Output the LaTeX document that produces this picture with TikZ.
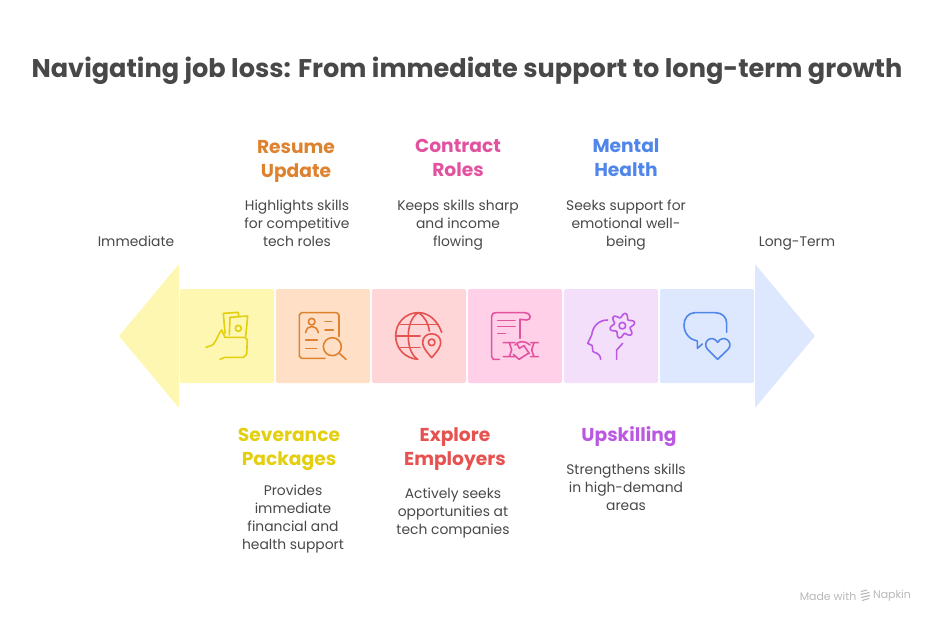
\documentclass[tikz,border=0pt]{standalone}
\usepackage{fontspec}
\setmainfont{Poppins}
\definecolor{cY}{HTML}{E3CF0E}\definecolor{cO}{HTML}{DE822F}\definecolor{cR}{HTML}{E6524F}
\definecolor{cP}{HTML}{E2539F}\definecolor{cV}{HTML}{BA58E2}\definecolor{cB}{HTML}{5086EA}
\definecolor{bY}{HTML}{FEF7B2}\definecolor{bO}{HTML}{FFE0C7}\definecolor{bR}{HTML}{FFD6D7}
\definecolor{bP}{HTML}{FFD0E8}\definecolor{bV}{HTML}{F4DFFB}\definecolor{bB}{HTML}{DDE8FE}
\definecolor{ink}{HTML}{484848}
\tikzset{
 seg/.style={fill=#1,draw=none,rounded corners=1.5pt,minimum size=70.5pt,inner sep=0pt,anchor=center},
 head/.style={text=#1,font=\fontsize{14}{18}\selectfont\bfseries,align=center,inner sep=0pt},
 desc/.style={text=ink,font=\fontsize{10.4}{13.5}\selectfont,align=center,inner sep=0pt},
 ttl/.style={text=ink,font=\fontsize{19.2}{24}\selectfont\bfseries,inner sep=0pt},
 ico/.style={draw=#1,line width=1.2pt,line cap=round,line join=round,fill=none},
}
\begin{document}
\begin{tikzpicture}[x=0.75pt,y=-0.75pt]
\useasboundingbox (0,0) rectangle (934,624);
\node[ttl] (title) at (467,70.5) {Navigating job loss: From immediate support to long-term growth};
\fill[bY,rounded corners=1pt] (179,264) -- (119,336) -- (179,408) -- cycle;
\fill[bB,rounded corners=1pt] (755,264) -- (815,336) -- (755,408) -- cycle;
\node[seg=bY] (s1) at (227,336) {};
\node[seg=bO] (s2) at (323,336) {};
\node[seg=bR] (s3) at (419,336) {};
\node[seg=bP] (s4) at (515,336) {};
\node[seg=bV] (s5) at (611,336) {};
\node[seg=bB] (s6) at (707,336) {};
\node[desc] (imm) at (136,241) {Immediate};
\node[desc] (lng) at (797,243.5) {Long-Term};
\node[head=cO] (h2) at (296,161) {Resume\\Update};
\node[desc] (d2) at (297,223) {Highlights skills\\for competitive\\tech roles};
\node[head=cP] (h4) at (458,158) {Contract\\Roles};
\node[desc] (d4) at (458,225) {Keeps skills sharp\\and income\\flowing};
\node[head=cB] (h6) at (626,158) {Mental\\Health};
\node[desc] (d6) at (626,225) {Seeks support for\\emotional well-\\being};
\node[head=cY] (h1) at (289,449) {Severance\\Packages};
\node[desc] (d1) at (293,519) {Provides\\immediate\\financial and\\health support};
\node[head=cR] (h3) at (455,449) {Explore\\Employers};
\node[desc] (d3) at (453,513) {Actively seeks\\opportunities at\\tech companies};
\node[head=cV] (h5) at (629,437) {Upskilling};
\node[desc] (d5) at (626,487) {Strengthens skills\\in high-demand\\areas};
\node[text=black!28,font=\fontsize{8.2}{10}\selectfont,inner sep=0pt] (mw) at (828,596) {Made with};
\node[text=black!28,font=\fontsize{8.2}{10}\selectfont,inner sep=0pt] (np) at (892,596) {Napkin};
\draw[black!28,line width=0.8pt] (861,591.5)--(867,590) (860.5,594.5)--(869.5,592.5) (861,597.5)--(870,595.5) (862,600.5)--(869,598.5);
% icons, coordinates in 3x crop pixels
\begin{scope}[x=0.25pt,y=-0.25pt,shift={(82.5pt,-191.25pt)}]
\draw[ico=cY] (345,235) -- (340,175) -- (385,172) -- (386,185);
\draw[ico=cY] (358,240) -- (360,187) -- (413,183) -- (407,245);
\draw[ico=cY] (385,220) circle (9);
\draw[ico=cY] (288,277) -- (308,270) .. controls (322,255) and (325,235) .. (335,225) -- (345,247);
\draw[ico=cY] (345,247) -- (405,247) -- (412,255) -- (410,298) -- (400,307) -- (345,307) -- (330,313);
\draw[ico=cO] (645,310) -- (575,310) -- (568,303) -- (568,180) -- (575,173) -- (680,173) -- (687,180) -- (687,245);
\draw[ico=cO] (605,200) circle (10);
\draw[ico=cO] (587,233) .. controls (590,208) and (620,208) .. (625,233);
\draw[ico=cO] (645,200)--(665,200) (645,225)--(670,225) (587,255)--(622,255) (587,280)--(620,280);
\draw[ico=cO] (667,275) circle (27);
\draw[ico=cO] (688,295)--(708,313);
\draw[ico=cR] (995,232) .. controls (982,195) and (955,173) .. (925,173) .. controls (885,173) and (857,205) .. (857,243) .. controls (857,280) and (885,310) .. (923,313);
\draw[ico=cR] (925,173) .. controls (885,195) and (885,290) .. (923,313);
\draw[ico=cR] (925,173) .. controls (945,185) and (955,205) .. (958,228);
\draw[ico=cR] (870,208)--(985,208) (857,243)--(930,243) (870,278)--(930,278);
\draw[ico=cR] (965,308) .. controls (945,285) and (938,275) .. (938,262) .. controls (938,228) and (992,228) .. (992,262) .. controls (992,275) and (985,285) .. (965,308) -- cycle;
\draw[ico=cR] (965,262) circle (10);
\end{scope}
\begin{scope}[x=0.25pt,y=-0.25pt,shift={(345pt,-191.25pt)}]
\draw[ico=cP] (118,313) -- (100,313) -- (95,305) -- (95,185) .. controls (95,176) and (100,173) .. (107,173) -- (195,173) .. controls (212,173) and (217,195) .. (200,195) -- (180,193);
\draw[ico=cP] (180,193) -- (180,250);
\draw[ico=cP] (113,197)--(165,197) (113,215)--(165,215) (113,235)--(137,235);
\draw[ico=cP] (130,263)--(165,263) (148,263) -- (155,285) -- (148,305) (130,305)--(165,305);
\draw[ico=cP] (212,263)--(235,263) (222,263) -- (215,285) -- (222,305) (212,305)--(235,305);
\draw[ico=cP] (165,270) .. controls (175,258) and (195,255) .. (210,270) (160,298) -- (177,313) -- (205,295);
\draw[ico=cP] (172,268) -- (178,280) -- (192,272) -- (208,296);
\draw[ico=cV] (443,195) .. controls (415,195) and (398,215) .. (395,240) -- (383,265) -- (397,272) -- (398,288) .. controls (400,295) and (420,290) .. (422,313);
\draw[ico=cV] (470,313) -- (470,285) -- (488,265);
\draw[ico=cV,smooth,domain=0:360,samples=61] plot ({487+(31+7*cos(6*\x+90))*cos(\x)},{212+(31+7*cos(6*\x+90))*sin(\x)});
\draw[ico=cV] (487,212) circle (10);
\draw[ico=cB] (800,232) -- (800,205) .. controls (800,185) and (785,173) .. (765,173) -- (705,173) .. controls (685,173) and (672,190) .. (672,210) .. controls (672,235) and (690,255) .. (712,258) -- (712,280) -- (727,267);
\draw[ico=cB] (773,313) -- (742,282) .. controls (725,262) and (755,235) .. (773,262) .. controls (790,235) and (822,262) .. (805,282) -- cycle;
\end{scope}
\end{tikzpicture}
\end{document}
